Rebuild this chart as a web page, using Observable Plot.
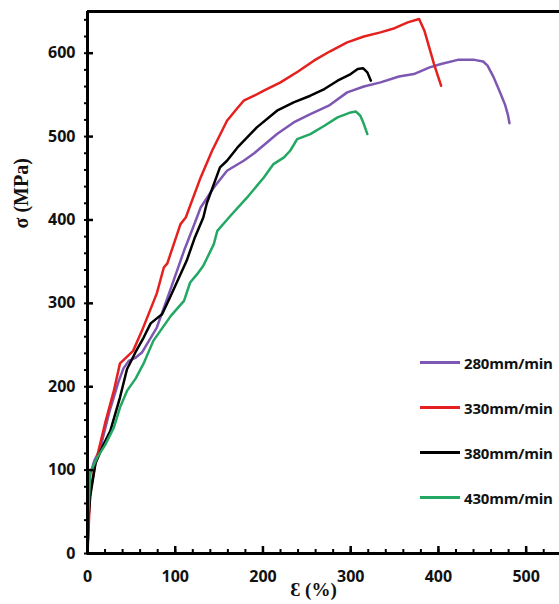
<!DOCTYPE html>
<html>
<head>
<meta charset="utf-8">
<script src="https://cdn.jsdelivr.net/npm/d3@7"></script>
<script src="https://cdn.jsdelivr.net/npm/@observablehq/plot@0.6"></script>
<style>
  html, body { margin: 0; padding: 0; background: #fff; }
  #wrap { position: relative; width: 559px; height: 604px; overflow: hidden; }
  #legend { position: absolute; left: 420px; top: 340px; font-family: "Open Sans", Lato, sans-serif; font-weight: 700; font-size: 15px; letter-spacing: -0.2px; color: #111; white-space: nowrap; }
  .row { display: flex; align-items: center; height: 45px; }
  .sw { width: 40px; height: 3px; margin-right: 4px; }
</style>
</head>
<body>
<div id="wrap"><div id="legend"></div></div>
<script>
const speeds = ["280mm/min", "330mm/min", "380mm/min", "430mm/min"];
const colors = ["#7E57B2", "#E5211F", "#000000", "#22A862"];

const strain280 = [0,1,3,8,14,25,35,41,47,55,62,70,79,94,110,120,129,144,159,178,190,216,235,254,275,296,315,334,355,372,390,403,422,441,451,456,463,471,476,479,481];
const stress280 = [0,50,95,112,124,170,205,222,231,235,241,255,271,315,363,390,415,439,459,471,480,503,517,527,537,553,560,565,572,575,583,587,592,592,590,585,571,551,538,527,516];

const strain330 = [0,3,9,20,30,37,41,52,62,79,87,91,106,112,129,142,159,170,178,190,201,220,240,258,276,296,315,334,350,365,378,384,395,403];
const stress330 = [0,72,108,156,195,228,232,243,267,312,343,348,395,403,451,483,519,533,543,549,555,565,578,591,602,613,620,625,630,637,641,627,587,561];

const strain380 = [0,1,3,9,18,26,37,45,55,64,72,79,85,94,113,122,132,136,144,151,159,171,193,216,235,254,270,285,300,308,314,319,323];
const stress380 = [0,40,68,108,130,147,187,221,242,259,276,282,287,307,351,378,403,420,443,463,471,487,511,531,541,549,557,567,575,581,582,577,567];

const strain430 = [0,1,3,11,20,30,37,45,55,64,75,83,95,110,117,125,132,144,148,163,182,201,212,224,231,239,254,270,285,300,306,311,315,319];
const stress430 = [0,50,96,115,130,151,175,195,210,228,255,267,285,303,325,335,345,371,387,405,427,451,467,475,483,497,503,513,523,529,530,525,515,503];

const xMajor = [0, 100, 200, 300, 400, 500];
const yMajor = [0, 100, 200, 300, 400, 500, 600];
const xMinor = d3.range(0, 540, 20);
const yMinor = d3.range(0, 650, 20);

const series = [
  {name: speeds[0], x: strain280, y: stress280},
  {name: speeds[1], x: strain330, y: stress330},
  {name: speeds[2], x: strain380, y: stress380},
  {name: speeds[3], x: strain430, y: stress430}
];
const rows = series.flatMap(s => s.x.map((v, i) => ({speed: s.name, strain: v, stress: s.y[i]})));

const chart = Plot.plot({
  width: 559,
  height: 604,
  marginLeft: 87,
  marginRight: 0,
  marginTop: 11,
  marginBottom: 51,
  x: {domain: [0, 538]},
  y: {domain: [0, 650]},
  color: {domain: speeds, range: colors},
  style: {fontFamily: "'Open Sans', Lato, sans-serif", background: "#fff", overflow: "visible"},
  marks: [
    Plot.line(rows, {x: "strain", y: "stress", z: "speed", stroke: "speed", strokeWidth: 2.5, curve: "linear", strokeLinejoin: "round"}),
    Plot.ruleX([0], {stroke: "#000", strokeWidth: 3}),
    Plot.ruleY([0], {stroke: "#000", strokeWidth: 3}),
    Plot.ruleY([650], {stroke: "#000", strokeWidth: 3}),
    Plot.axisX(xMinor, {tickSize: 3, dy: -4, strokeWidth: 2, tickFormat: () => "", label: null}),
    Plot.axisX(xMajor, {tickSize: 6, dy: -7, strokeWidth: 2.5, tickPadding: 18, fontSize: 16, fontWeight: 700, label: null, fill: "#111", style: {letterSpacing: "-1px"}}),
    Plot.axisY(yMinor, {tickSize: 3, strokeWidth: 2, tickFormat: () => "", label: null}),
    Plot.axisY(yMajor, {tickSize: 6, dx: 6, strokeWidth: 2.5, tickPadding: 12, fontSize: 16, fontWeight: 700, label: null, fill: "#111"}),
    Plot.text(["σ (MPa)"], {frameAnchor: "left", dx: -66, dy: -54, rotate: -90, fontFamily: "'Liberation Serif', serif", fontWeight: 700, fontSize: 20, fill: "#111"}),
    Plot.text(["Ɛ (%)"], {frameAnchor: "bottom", dx: -10, dy: 42, fontFamily: "'Liberation Serif', serif", fontWeight: 700, fontSize: 19, fill: "#111"})
  ]
});
const wrap = document.getElementById("wrap");
wrap.insertBefore(chart, wrap.firstChild);

const legend = document.getElementById("legend");
speeds.forEach((s, i) => {
  const r = document.createElement("div");
  r.className = "row";
  r.innerHTML = `<div class="sw" style="background:${colors[i]}"></div><span>${s}</span>`;
  legend.appendChild(r);
});
</script>
</body>
</html>
